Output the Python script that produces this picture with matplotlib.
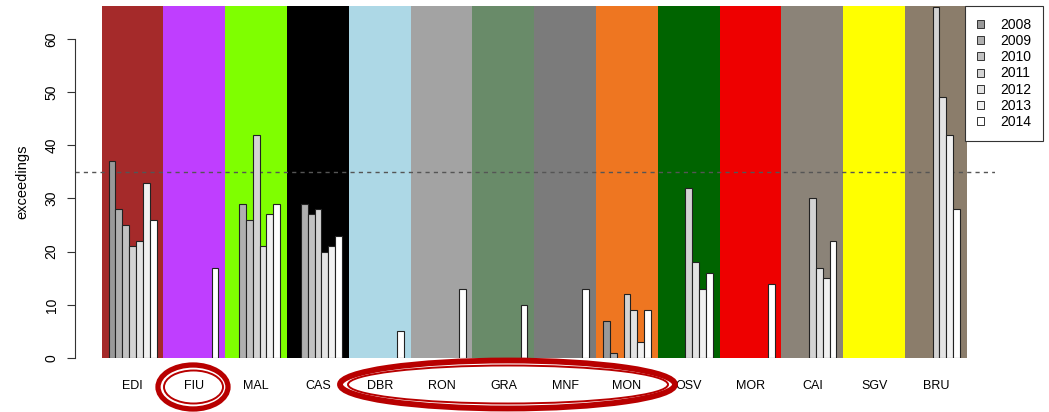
import numpy as np
import matplotlib
matplotlib.use("Agg")
import matplotlib.pyplot as plt
from matplotlib.patches import Ellipse, Patch

plt.rcParams['font.family'] = ['Liberation Sans', 'DejaVu Sans']

# data
nan = np.nan
sites = ['EDI', 'FIU', 'MAL', 'CAS', 'DBR', 'RON', 'GRA', 'MNF', 'MON', 'OSV', 'MOR', 'CAI', 'SGV', 'BRU']
years = ['2008', '2009', '2010', '2011', '2012', '2013', '2014']
y2008 = [37, nan, nan, nan, nan, nan, nan, nan, 7, nan, nan, nan, nan, nan]
y2009 = [28, nan, 29, 29, nan, nan, nan, nan, 1, nan, nan, nan, nan, nan]
y2010 = [25, nan, 26, 27, nan, nan, nan, nan, nan, nan, nan, nan, nan, nan]
y2011 = [21, nan, 42, 28, nan, nan, nan, nan, 12, 32, nan, 30, nan, 66]
y2012 = [22, nan, 21, 20, nan, nan, nan, nan, 9, 18, nan, 17, nan, 49]
y2013 = [33, nan, 27, 21, nan, nan, nan, nan, 3, 13, nan, 15, nan, 42]
y2014 = [26, 17, 29, 23, 5, 13, 10, 13, 9, 16, 14, 22, nan, 28]
limit = 35

bg_colors = ['#A52A2A', '#BF3EFF', '#7FFF00', '#000000', '#ADD8E6', '#A3A3A3', '#698B69',
             '#7B7B7B', '#EE7621', '#006400', '#EE0000', '#8B8378', '#FFFF00', '#8B7D6B']
bar_grays = ['#999999', '#AFAFAF', '#C2C2C2', '#D3D3D3', '#E3E3E3', '#F1F1F1', '#FFFFFF']

series = [y2008, y2009, y2010, y2011, y2012, y2013, y2014]

W, H = 1049, 412
fig = plt.figure(figsize=(W / 100, H / 100), dpi=100)
ax = fig.add_axes([75 / W, (H - 358) / H, (995 - 75) / W, (358 - 6) / H])

pos = np.arange(len(sites))
ytop = (358 - 6) / 5.317
for i, c in enumerate(bg_colors):
    ax.axvspan(i - 0.5, i + 0.5, ymin=0, ymax=1, color=c, lw=0, zorder=0)

ax.axhline(limit, color='#555555', lw=1.0, ls=(0, (3, 3)), zorder=1)

bw = 1 / 9
for j, vals in enumerate(series):
    ax.bar(pos + (j - 3) * bw, vals, width=bw, color=bar_grays[j],
           edgecolor='#222222', linewidth=0.8, zorder=2)

ax.set_xlim(-0.932, 13.955)
ax.set_ylim(0, ytop)

for s in ['top', 'right', 'bottom']:
    ax.spines[s].set_visible(False)
ax.spines['left'].set_bounds(0, 60)
ax.spines['left'].set_color('#333333')
ax.set_yticks(np.arange(0, 61, 10))
ax.tick_params(axis='y', length=5.8, width=0.8, color='#333333', pad=6, labelsize=10)
for lab in ax.get_yticklabels():
    lab.set_rotation(90)
    lab.set_va('center')
ax.set_xticks([])
ax.set_ylabel('exceedings', fontsize=10.5, va='center')
ax.yaxis.set_label_coords((22 - 75) / 920, 0.5)

for i, s in enumerate(sites):
    ax.text(i, -(386 - 358) / (358 - 6), s, transform=ax.get_xaxis_transform(),
            ha='center', va='center', fontsize=9)

handles = [Patch(facecolor=bar_grays[j], edgecolor='#333333', linewidth=0.7) for j in range(7)]
leg = fig.legend(handles, years, loc='upper left', bbox_to_anchor=(965 / W, 1 - 6 / H),
                 borderaxespad=0, fontsize=10, handlelength=0.5, handleheight=0.5,
                 labelspacing=0.16, handletextpad=1.2, borderpad=0.85, fancybox=False,
                 framealpha=1, edgecolor='#333333')
leg.get_frame().set_linewidth(0.8)

# red annotation ellipses drawn over the labels
ov = fig.add_axes([0, 0, 1, 1], zorder=5)
ov.set_xlim(0, W)
ov.set_ylim(H, 0)
ov.axis('off')
ov.patch.set_alpha(0)
red = '#B80000'
ov.add_patch(Ellipse((193, 387), 70, 44, fill=False, ec=red, lw=3.8))
ov.add_patch(Ellipse((193.5, 387), 59, 33, fill=False, ec=red, lw=1.4))
ov.add_patch(Ellipse((507.5, 384.5), 335, 48, fill=False, ec=red, lw=4.2))
ov.add_patch(Ellipse((508, 384.5), 320, 38, fill=False, ec=red, lw=1.4))

fig.savefig('out.png', dpi=100)
